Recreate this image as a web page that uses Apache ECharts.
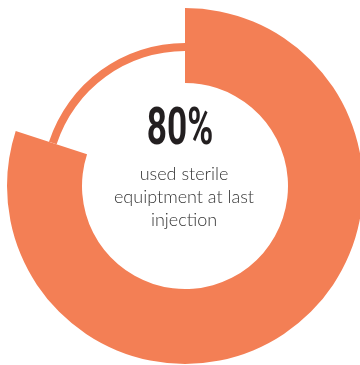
<!DOCTYPE html>
<html><head><meta charset="utf-8">
<script src="https://cdn.jsdelivr.net/npm/echarts@6/dist/echarts.min.js"></script>
<style>html,body{margin:0;padding:0;background:#fff}#c{width:360px;height:365px}</style>
</head><body><div id="c"></div>
<script>
var categories = ['used sterile equipment', 'did not'];
var values = [80, 20];
var headline = '80%';
var caption = 'used sterile\nequiptment at last\ninjection';

var orange = '#F37F55';
var chart = echarts.init(document.getElementById('c'), null, {renderer: 'canvas'});
function mk(colors) {
  return categories.map(function (c, i) {
    return {name: c, value: values[i], itemStyle: {color: colors[i]}};
  });
}
chart.setOption({
  animation: false,
  series: [
    {
      type: 'pie', center: [185, 186], radius: [103, 178], startAngle: 90, clockwise: true,
      label: {show: false}, labelLine: {show: false}, silent: true,
      itemStyle: {borderWidth: 0},
      data: mk([orange, 'rgba(0,0,0,0)'])
    },
    {
      type: 'pie', center: [185, 186], radius: [135, 143], startAngle: 90, clockwise: true,
      label: {show: false}, labelLine: {show: false}, silent: true,
      itemStyle: {borderWidth: 0},
      data: mk(['rgba(0,0,0,0)', orange])
    }
  ],
  graphic: [
    {
      type: 'text', x: 180, y: 131, scaleX: 0.69, scaleY: 1, originX: 0, originY: 0,
      style: {text: headline, fill: '#231F20', font: 'bold 51px Roboto, "DejaVu Sans", sans-serif',
        align: 'center', verticalAlign: 'middle'}
    },
    {
      type: 'text', x: 184, y: 197,
      style: {text: caption, fill: '#333333', font: '300 18px Lato, "Noto Sans", sans-serif', lineHeight: 23,
        align: 'center', verticalAlign: 'middle'}
    }
  ]
});
</script></body></html>
